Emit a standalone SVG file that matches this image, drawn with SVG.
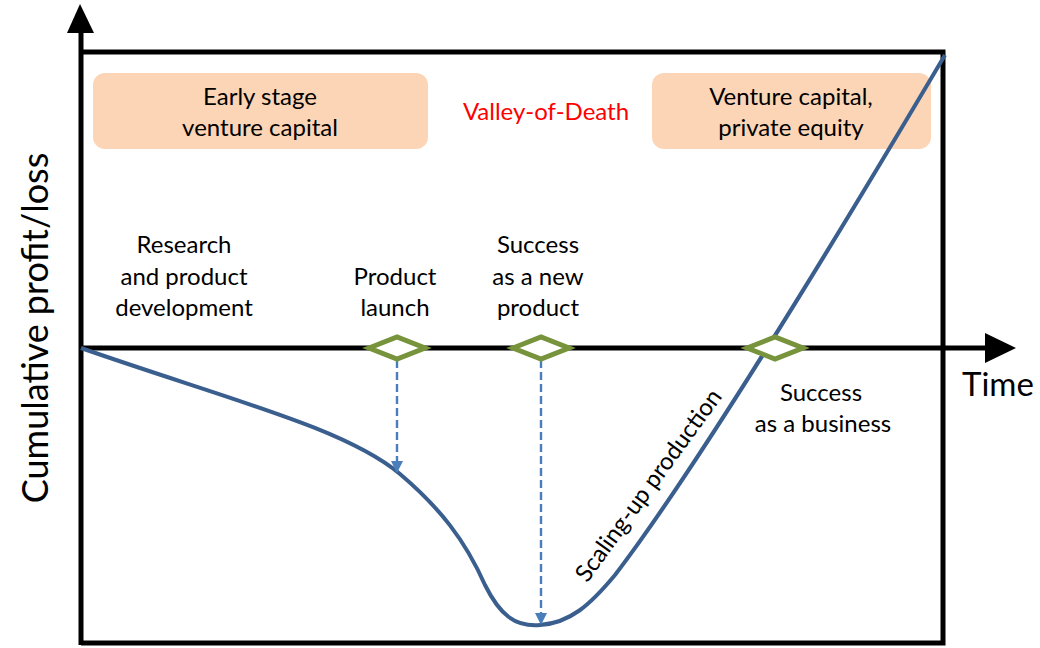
<svg xmlns="http://www.w3.org/2000/svg" width="1040" height="648" viewBox="0 0 1040 648">
<defs>
<marker id="dash-arrow" markerWidth="12" markerHeight="12" refX="11" refY="6" orient="auto" markerUnits="userSpaceOnUse" viewBox="0 0 12 12">
<path d="M0,0 L12,6 L0,12 Z" fill="#4A7EBB"/>
</marker>
</defs>
<style>
text{font-family:"Lato","Open Sans","Liberation Sans",sans-serif;fill:#000}
.lbl{font-size:24px;text-anchor:middle}
.box{fill:#FBD5B5;stroke:none}
.dia{fill:#fff;stroke:#77933C;stroke-width:5}
.axis{stroke:#000;stroke-width:5;fill:none}
.dash{stroke:#4A7EBB;stroke-width:2.4;stroke-dasharray:8,4;fill:none}
</style>
<rect width="1040" height="648" fill="#fff"/>
<g id="frame">
<path class="axis" d="M81,52 H943 V643 H81"/>
<line class="axis" x1="81" y1="30" x2="81" y2="645"/>
<path d="M80,4 L67,33 L94,33 Z" fill="#000"/>
<line class="axis" x1="81" y1="348" x2="988" y2="348"/>
<path d="M1016,348 L985,333 L985,363 Z" fill="#000"/>
<text x="962" y="396" style="font-size:33px">Time</text>
<text transform="translate(48,328) rotate(-90)" style="font-size:36px;text-anchor:middle">Cumulative profit/loss</text>
</g>
<g id="box-early">
<rect class="box" x="93" y="73" width="335" height="76" rx="12"/>
<text class="lbl" x="260" y="105">Early stage</text>
<text class="lbl" x="260" y="136">venture capital</text>
</g>
<g id="valley">
<text class="lbl" x="546" y="120" style="fill:#FF0000">Valley-of-Death</text>
</g>
<g id="box-vc">
<rect class="box" x="652" y="73" width="279" height="76" rx="12"/>
<text class="lbl" x="791" y="105">Venture capital,</text>
<text class="lbl" x="791" y="136">private equity</text>
</g>
<g id="curve">
<path d="M81,348 C230,400 345,428 400,474 C440,508 465,540 485,585 C500,615 515,627 540,625 C570,623 590,605 615,575 C680,490 800,300 945,55" fill="none" stroke="#3A5F8F" stroke-width="4"/>
<text transform="translate(655,490) rotate(-54)" style="font-size:24px;text-anchor:middle">Scaling-up production</text>
</g>
<g id="connectors">
<line class="dash" x1="397" y1="360" x2="397" y2="472" marker-end="url(#dash-arrow)"/>
<line class="dash" x1="541" y1="360" x2="541" y2="624" marker-end="url(#dash-arrow)"/>
</g>
<g id="research">
<text class="lbl" x="184" y="253">Research</text>
<text class="lbl" x="184" y="285">and product</text>
<text class="lbl" x="184" y="316">development</text>
</g>
<g id="launch">
<polygon class="dia" points="369,348 397,337 425,348 397,359"/>
<text class="lbl" x="395" y="285">Product</text>
<text class="lbl" x="395" y="316">launch</text>
</g>
<g id="new-product">
<polygon class="dia" points="513,348 541,337 569,348 541,359"/>
<text class="lbl" x="538" y="253">Success</text>
<text class="lbl" x="538" y="285">as a new</text>
<text class="lbl" x="538" y="316">product</text>
</g>
<g id="business">
<polygon class="dia" points="747,348 775,337 803,348 775,359"/>
<text class="lbl" x="821" y="401">Success</text>
<text class="lbl" x="823" y="432">as a business</text>
</g>
</svg>
